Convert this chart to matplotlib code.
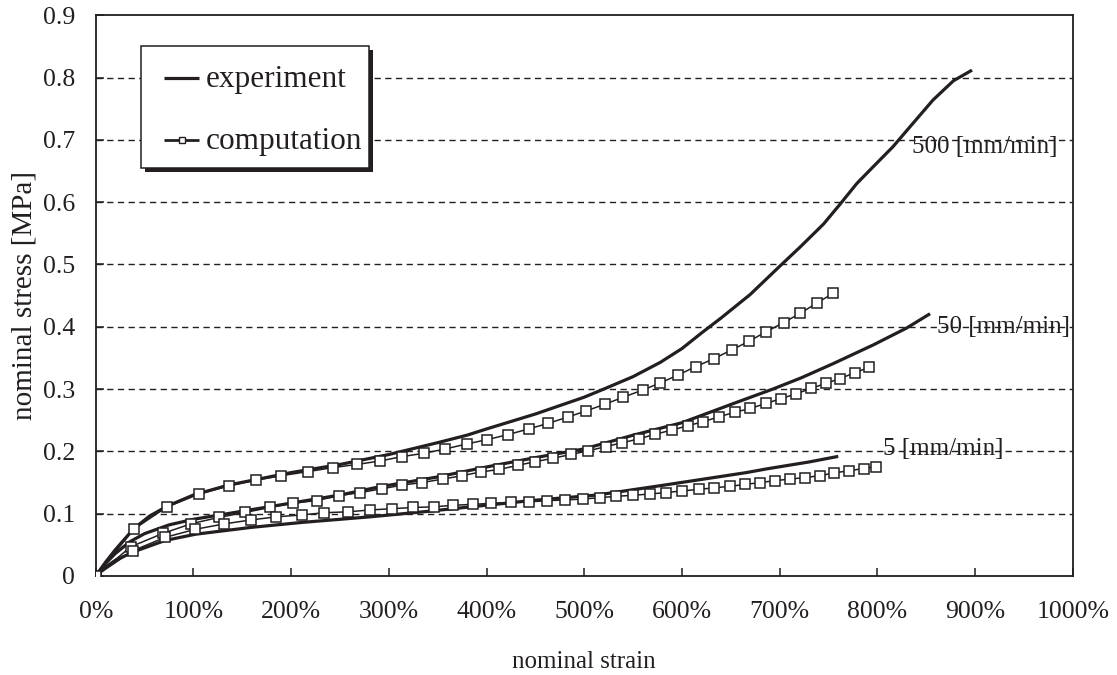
import matplotlib
matplotlib.use("Agg")
import matplotlib.pyplot as plt
from matplotlib.patches import Rectangle
from matplotlib.lines import Line2D

plt.rcParams['font.family'] = ['Liberation Serif', 'DejaVu Serif']
INK = '#231f20'

# ---------------- data (strain in %, stress in MPa) ----------------
exp500_x = [0, 10, 20, 30, 39, 55, 73, 100, 136, 200, 250, 300, 350, 380, 400, 450,
            500, 520, 550, 578, 600, 620, 640, 670, 700, 721, 745, 762, 779, 799,
            816, 834, 857, 878, 897]
exp500_y = [0, .022, .042, .060, .076, .096, .112, .130, .146, .166, .179, .195, .214,
            .226, .236, .260, .287, .300, .320, .343, .365, .390, .414, .452, .497,
            .528, .565, .597, .630, .662, .689, .722, .764, .795, .812]

exp50_x = [0, 10, 20, 35, 50, 75, 100, 150, 200, 250, 290, 350, 400, 450, 500, 550,
           600, 653, 693, 722, 755, 796, 830, 854]
exp50_y = [0, .020, .036, .055, .068, .082, .091, .104, .117, .130, .143, .159, .175,
           .190, .204, .226, .246, .277, .300, .318, .341, .371, .398, .421]

exp5_x = [0, 10, 20, 39, 71, 102, 159, 211, 250, 281, 335, 390, 421, 445, 513, 578,
          620, 666, 687, 730, 760]
exp5_y = [0, .014, .025, .039, .057, .067, .078, .086, .091, .095, .103, .112, .117,
          .121, .130, .145, .155, .166, .172, .183, .192]

comp500_x = [0, 39, 73, 106, 136, 164, 190, 217, 243, 267, 291, 313, 336, 358, 380,
             401, 422, 443, 463, 483, 502, 521, 540, 560, 578, 596, 614, 633, 651,
             669, 686, 704, 721, 738, 755]
comp500_y = [0, .075, .111, .1316, .1445, .154, .161, .1675, .174, .179, .1846, .1915,
             .197, .204, .212, .219, .227, .236, .245, .255, .265, .2756, .287, .2986,
             .310, .3226, .336, .349, .363, .377, .392, .4066, .4216, .438, .454]

comp50_x = [0, 36, 69, 98, 126, 153, 178, 202, 226, 249, 271, 293, 314, 334, 355,
            375, 394, 413, 432, 450, 468, 487, 504, 522, 539, 556, 572, 590, 606,
            622, 638, 654, 670, 686, 701, 717, 732, 747, 762, 777, 792]
comp50_y = [0, .047, .0685, .084, .094, .102, .110, .117, .121, .129, .134, .140,
            .146, .150, .1555, .161, .167, .171, .1777, .1835, .189, .1953, .201,
            .2076, .214, .220, .2274, .2343, .2413, .2477, .2557, .2627, .269, .277,
            .2845, .2925, .301, .309, .317, .3264, .335]

comp5_x = [0, 38, 71, 102, 131, 159, 185, 211, 234, 258, 281, 303, 325, 346, 366,
           386, 405, 425, 444, 462, 480, 499, 516, 533, 550, 567, 584, 600, 617,
           633, 649, 665, 680, 695, 711, 726, 741, 756, 771, 786, 799]
comp5_y = [0, .0406, .062, .075, .0835, .090, .095, .098, .1016, .103, .106, .108,
           .110, .111, .1135, .115, .1167, .118, .119, .121, .122, .1236, .1257,
           .128, .1295, .1316, .134, .1365, .139, .1415, .144, .147, .150, .153,
           .1557, .158, .161, .1655, .169, .1725, .1755]

rate_labels = ['500 [mm/min]', '50 [mm/min]', '5 [mm/min]']
rate_label_x = [836, 861, 806]
rate_label_y = [0.688, 0.399, 0.204]

x_ticks = list(range(0, 1001, 100))
x_ticklabels = [f'{v}%' for v in x_ticks]
y_ticks = [0, 0.1, 0.2, 0.3, 0.4, 0.5, 0.6, 0.7, 0.8, 0.9]
y_ticklabels = ['0', '0.1', '0.2', '0.3', '0.4', '0.5', '0.6', '0.7', '0.8', '0.9']
legend_labels = ['experiment', 'computation']

# ---------------- figure ----------------
W, H = 1117, 675
fig = plt.figure(figsize=(W / 100, H / 100), dpi=100)
L, R, T, B = 95.7, 1072.7, 15.3, 576.0
ax = fig.add_axes([L / W, 1 - B / H, (R - L) / W, (B - T) / H])
ax.set_xlim(0, 1000)
ax.set_ylim(0, 0.9)

for yv in y_ticks[1:-1]:
    ax.axhline(yv, color=INK, lw=1.0, ls=(0, (4.5, 3.2)), zorder=1)

exp_kw = dict(color=INK, lw=2.3, solid_capstyle='butt', solid_joinstyle='round', zorder=3)
comp_kw = dict(color=INK, lw=1.1, marker='s', markersize=7.2, markerfacecolor='white',
               markeredgecolor=INK, markeredgewidth=1.1, zorder=4)

ax.plot(exp500_x, exp500_y, **exp_kw)
ax.plot(exp50_x, exp50_y, **exp_kw)
ax.plot(exp5_x, exp5_y, **exp_kw)
ax.plot(comp500_x, comp500_y, **comp_kw)
ax.plot(comp50_x, comp50_y, **comp_kw)
ax.plot(comp5_x, comp5_y, **comp_kw)

for lab, lx, ly in zip(rate_labels, rate_label_x, rate_label_y):
    ax.text(lx, ly, lab, fontsize=18, color=INK, ha='left', va='center', zorder=5)

ax.set_xticks(x_ticks)
ax.set_xticklabels(x_ticklabels)
ax.set_yticks(y_ticks)
ax.set_yticklabels(y_ticklabels)
ax.tick_params(axis='both', direction='in', length=5.5, width=1.1, colors=INK,
               labelsize=18.5, labelcolor=INK)
ax.tick_params(axis='y', pad=15)
ax.tick_params(axis='x', pad=18)
for sp in ax.spines.values():
    sp.set_linewidth(1.3)
    sp.set_color(INK)

ax.set_xlabel('nominal strain', fontsize=18, color=INK)
ax.xaxis.set_label_coords(0.5, (B - 662) / (B - T))
ax.xaxis.label.set_verticalalignment('center')
ax.set_ylabel('nominal stress [MPa]', fontsize=21, color=INK)
ax.yaxis.set_label_coords((24 - L) / (R - L), 0.5)
ax.yaxis.label.set_verticalalignment('center')

# ---------------- legend (drawn manually, pixel-positioned) ----------------
def af(px, py):
    return ((px - L) / (R - L), (B - py) / (B - T))

bx0, by0, bx1, by1 = 140.7, 46.0, 369.3, 168.0
sx, sy = af(bx0 + 4, by1 + 4)
ex, ey = af(bx1 + 4, by0 + 4)
ax.add_patch(Rectangle((sx, sy), ex - sx, ey - sy, transform=ax.transAxes,
                       facecolor=INK, edgecolor=INK, lw=0, zorder=8))
fx, fy = af(bx0, by1)
gx, gy = af(bx1, by0)
ax.add_patch(Rectangle((fx, fy), gx - fx, gy - fy, transform=ax.transAxes,
                       facecolor='white', edgecolor=INK, lw=1.1, zorder=9))
hx0, _ = af(164, 0)
hx1, _ = af(199, 0)
hxm, _ = af(181.5, 0)
_, r1 = af(0, 78)
_, r2 = af(0, 140)
ax.add_line(Line2D([hx0, hx1], [r1, r1], transform=ax.transAxes, color=INK, lw=2.3,
                   solid_capstyle='butt', zorder=10))
ax.add_line(Line2D([hx0, hx1], [r2, r2], transform=ax.transAxes, color=INK, lw=2.0,
                   solid_capstyle='butt', zorder=10))
ax.add_line(Line2D([hxm], [r2], transform=ax.transAxes, marker='s', markersize=5,
                   markerfacecolor='white', markeredgecolor=INK, markeredgewidth=1.0,
                   lw=0, zorder=11))
tx, _ = af(206, 0)
_, t1 = af(0, 80)
_, t2 = af(0, 141)
ax.text(tx, t1, legend_labels[0], transform=ax.transAxes, fontsize=22.5, color=INK,
        ha='left', va='center', zorder=11)
ax.text(tx, t2, legend_labels[1], transform=ax.transAxes, fontsize=22.5, color=INK,
        ha='left', va='center', zorder=11)

fig.savefig('out.png', dpi=100)
